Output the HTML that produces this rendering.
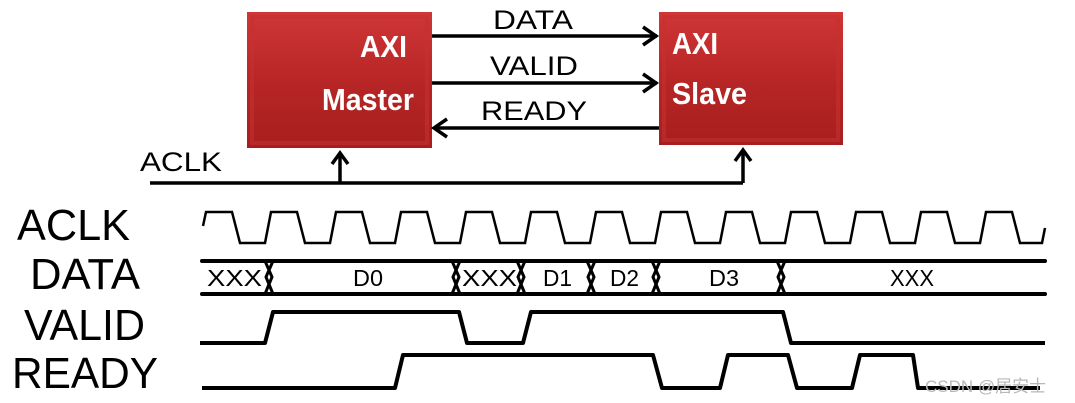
<!DOCTYPE html>
<html><head><meta charset="utf-8"><style>
html,body{margin:0;padding:0;background:#fff;}
svg{display:block;}
text{font-family:"Liberation Sans",Arial,sans-serif;}
</style></head><body>
<svg width="1075" height="403" viewBox="0 0 1075 403" xmlns="http://www.w3.org/2000/svg">
<defs>
<linearGradient id="g" x1="0" y1="0" x2="0" y2="1">
<stop offset="0" stop-color="#d03636"/><stop offset="0.5" stop-color="#b82626"/><stop offset="1" stop-color="#a81e1e"/>
</linearGradient>
</defs>
<rect x="247" y="12" width="185" height="136" fill="url(#g)"/>
<rect x="252" y="17" width="175" height="126" fill="none" stroke="#c43030" stroke-width="4" opacity="0.6"/>
<rect x="659" y="12" width="184" height="133" fill="url(#g)"/>
<rect x="664" y="17" width="174" height="123" fill="none" stroke="#c43030" stroke-width="4" opacity="0.6"/>
<g fill="#fff" font-weight="bold" font-size="31">
<text x="360" y="57" textLength="47" lengthAdjust="spacingAndGlyphs">AXI</text>
<text x="322" y="110" textLength="92" lengthAdjust="spacingAndGlyphs">Master</text>
<text x="672" y="54" textLength="46" lengthAdjust="spacingAndGlyphs">AXI</text>
<text x="672" y="104" textLength="75" lengthAdjust="spacingAndGlyphs">Slave</text>
</g>
<g stroke="#000" stroke-width="3.5" fill="none">
<line x1="432" y1="36" x2="657" y2="36"/><polyline points="643,27 656,36 643,45"/>
<line x1="432" y1="83" x2="657" y2="83"/><polyline points="643,74 656,83 643,92"/>
<line x1="434" y1="128" x2="659" y2="128"/><polyline points="447,119 434,128 447,137"/>
<polyline points="150,183 743,183"/>
<line x1="340" y1="183" x2="340" y2="153"/><polyline points="332,164 340,153 348,164"/>
<line x1="743" y1="183" x2="743" y2="150"/><polyline points="735,161 743,150 751,161"/>
</g>
<g font-size="27" fill="#000">
<text x="493" y="29" textLength="80" lengthAdjust="spacingAndGlyphs">DATA</text>
<text x="490" y="75" textLength="88" lengthAdjust="spacingAndGlyphs">VALID</text>
<text x="481" y="120" textLength="106" lengthAdjust="spacingAndGlyphs">READY</text>
<text x="140" y="171" textLength="82" lengthAdjust="spacingAndGlyphs">ACLK</text>
</g>
<g font-size="44" fill="#000">
<text x="17" y="240" textLength="113" lengthAdjust="spacingAndGlyphs">ACLK</text>
<text x="30" y="289" textLength="110" lengthAdjust="spacingAndGlyphs">DATA</text>
<text x="24" y="340" textLength="121" lengthAdjust="spacingAndGlyphs">VALID</text>
<text x="12" y="388" textLength="146" lengthAdjust="spacingAndGlyphs">READY</text>
</g>
<polyline fill="none" stroke="#000" stroke-width="2.5" points="
203,226 206,212 232,212 240,243 265,243 271,212 297,212 305,243 330,243 336,212 362,212 370,243 395,243 401,212 427,212 435,243 460,243 466,212 492,212 500,243 525,243 531,212 557,212 565,243 590,243 596,212 622,212 630,243 655,243 661,212 687,212 695,243 720,243 726,212 752,212 760,243 785,243 791,212 817,212 825,243 850,243 856,212 882,212 890,243 915,243 921,212 947,212 955,243 980,243 986,212 1012,212 1020,243 1042,243 1045,228"/>
<g stroke="#000" stroke-width="4" fill="none" stroke-linecap="round">
<line x1="202" y1="261" x2="1045" y2="261"/>
<line x1="202" y1="294" x2="1045" y2="294"/>
</g>
<g stroke="#000" stroke-width="3" fill="none">
<polyline points="265,261 272,277 265,294"/><polyline points="273,261 266,277 273,294"/>
<polyline points="452,261 459,277 452,294"/><polyline points="460,261 453,277 460,294"/>
<polyline points="517,261 524,277 517,294"/><polyline points="525,261 518,277 525,294"/>
<polyline points="587,261 594,277 587,294"/><polyline points="595,261 588,277 595,294"/>
<polyline points="652,261 659,277 652,294"/><polyline points="660,261 653,277 660,294"/>
<polyline points="777,261 784,277 777,294"/><polyline points="785,261 778,277 785,294"/>
</g>
<g font-size="23" fill="#000">
<text x="207" y="286" textLength="55" lengthAdjust="spacingAndGlyphs">XXX</text>
<text x="353" y="286" textLength="30" lengthAdjust="spacingAndGlyphs">D0</text>
<text x="462" y="286" textLength="55" lengthAdjust="spacingAndGlyphs">XXX</text>
<text x="543" y="286" textLength="29" lengthAdjust="spacingAndGlyphs">D1</text>
<text x="610" y="286" textLength="29" lengthAdjust="spacingAndGlyphs">D2</text>
<text x="709" y="286" textLength="30" lengthAdjust="spacingAndGlyphs">D3</text>
<text x="890" y="286" textLength="44" lengthAdjust="spacingAndGlyphs">XXX</text>
</g>
<polyline fill="none" stroke="#000" stroke-width="4" stroke-linejoin="round" points="200,343 265,343 273,312 459,312 467,343 523,343 531,312 783,312 791,343 1045,343"/>
<polyline fill="none" stroke="#000" stroke-width="4" stroke-linejoin="round" points="202,388 395,388 403,355 653,355 662,388 720,388 728,355 788,355 797,388 852,388 860,355 913,355 918,388 1040,388"/>
<text x="925" y="392" font-size="17" fill="#b8b8b8" font-family="'Liberation Sans','Noto Sans CJK SC',sans-serif">CSDN @居安士</text>
</svg>
</body></html>
